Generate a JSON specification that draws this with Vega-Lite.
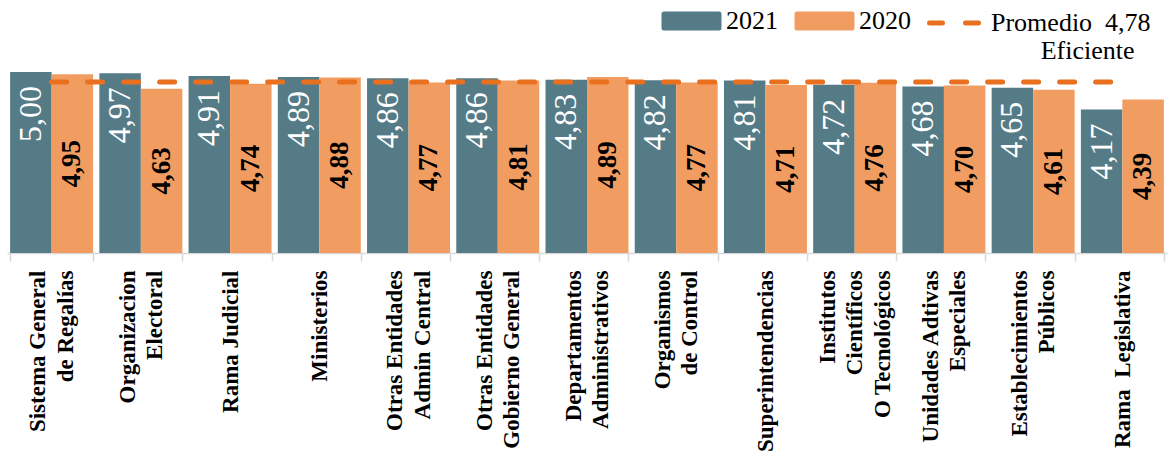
{
  "$schema": "https://vega.github.io/schema/vega-lite/v6.json",
  "width": 1160,
  "height": 181,
  "autosize": {"type": "none"},
  "padding": {"left": 7, "top": 72, "right": 8, "bottom": 207},
  "background": "white",
  "config": {
    "view": {"stroke": null},
    "font": "Liberation Serif",
    "locale": {"number": {"decimal": ",", "thousands": ".", "grouping": [3], "currency": ["$", ""]}}
  },
  "data": {
    "values": [
      {"cat": "Sistema General\nde Regalías", "year": "2021", "value": 5.00},
      {"cat": "Sistema General\nde Regalías", "year": "2020", "value": 4.95},
      {"cat": "Organizacion\nElectoral", "year": "2021", "value": 4.97},
      {"cat": "Organizacion\nElectoral", "year": "2020", "value": 4.63},
      {"cat": "Rama Judicial", "year": "2021", "value": 4.91},
      {"cat": "Rama Judicial", "year": "2020", "value": 4.74},
      {"cat": "Ministerios", "year": "2021", "value": 4.89},
      {"cat": "Ministerios", "year": "2020", "value": 4.88},
      {"cat": "Otras Entidades\nAdmin Central", "year": "2021", "value": 4.86},
      {"cat": "Otras Entidades\nAdmin Central", "year": "2020", "value": 4.77},
      {"cat": "Otras Entidades\nGobierno General", "year": "2021", "value": 4.86},
      {"cat": "Otras Entidades\nGobierno General", "year": "2020", "value": 4.81},
      {"cat": "Departamentos\nAdministrativos", "year": "2021", "value": 4.83},
      {"cat": "Departamentos\nAdministrativos", "year": "2020", "value": 4.89},
      {"cat": "Organismos\nde Control", "year": "2021", "value": 4.82},
      {"cat": "Organismos\nde Control", "year": "2020", "value": 4.77},
      {"cat": "Superintendencias", "year": "2021", "value": 4.81},
      {"cat": "Superintendencias", "year": "2020", "value": 4.71},
      {"cat": "Institutos\nCientíficos\nO Tecnológicos", "year": "2021", "value": 4.72},
      {"cat": "Institutos\nCientíficos\nO Tecnológicos", "year": "2020", "value": 4.76},
      {"cat": "Unidades Adtivas\nEspeciales", "year": "2021", "value": 4.68},
      {"cat": "Unidades Adtivas\nEspeciales", "year": "2020", "value": 4.70},
      {"cat": "Establecimientos\nPúblicos", "year": "2021", "value": 4.65},
      {"cat": "Establecimientos\nPúblicos", "year": "2020", "value": 4.61},
      {"cat": "Rama\u00a0\u00a0Legislativa", "year": "2021", "value": 4.17},
      {"cat": "Rama\u00a0\u00a0Legislativa", "year": "2020", "value": 4.39}
    ]
  },
  "resolve": {"scale": {"y": "independent"}},
  "encoding": {
    "x": {
      "field": "cat",
      "type": "nominal",
      "sort": null,
      "scale": {"paddingInner": 0.07, "paddingOuter": 0.035},
      "axis": {
        "title": null,
        "domainColor": "#d9d9d9",
        "domainWidth": 1.5,
        "tickColor": "#d9d9d9",
        "tickWidth": 1.5,
        "tickSize": 8,
        "tickBand": "extent",
        "labelAngle": -90,
        "labelAlign": "right",
        "labelBaseline": "middle",
        "labelFont": "Liberation Serif",
        "labelFontWeight": "bold",
        "labelFontSize": 23,
        "labelColor": "#000000",
        "labelLineHeight": 27.5,
        "labelPadding": 9,
        "labelLimit": 0,
        "labelOverlap": false,
        "labelExpr": "({'Sistema General\\nde Regalías': ['Sistema General', 'de Regalías\u00a0\u00a0\u00a0\u00a0'], 'Organizacion\\nElectoral': ['Organizacion', 'Electoral\u00a0\u00a0\u00a0\u00a0'], 'Otras Entidades\\nAdmin Central': ['Otras Entidades', 'Admin Central\u00a0'], 'Otras Entidades\\nGobierno General': ['Otras Entidades\u00a0', 'Gobierno General'], 'Organismos\\nde Control': ['Organismos', 'de Control\u00a0'], 'Institutos\\nCientíficos\\nO Tecnológicos': ['Institutos\u00a0\u00a0\u00a0\u00a0\u00a0', 'Científicos\u00a0\u00a0\u00a0\u00a0', 'O Tecnológicos'], 'Unidades Adtivas\\nEspeciales': ['Unidades Adtivas', 'Especiales\u00a0\u00a0\u00a0\u00a0\u00a0\u00a0\u00a0'], 'Establecimientos\\nPúblicos': ['Establecimientos', 'Públicos\u00a0\u00a0\u00a0\u00a0\u00a0\u00a0\u00a0\u00a0']})[datum.label] || split(datum.label, '\\n')",
        "encoding": {
          "labels": {
            "dy": {"value": {"expr": "-(length(split(datum.label, '\\n')) - 1) * 13.75"}}
          }
        }
      }
    }
  },
  "layer": [
    {
      "mark": {"type": "bar"},
      "encoding": {
        "xOffset": {"field": "year", "type": "nominal", "scale": {"domain": ["2021", "2020"]}},
        "y": {"field": "value", "type": "quantitative", "scale": {"domain": [1, 5], "nice": false, "zero": false}, "axis": null},
        "y2": {"datum": 1},
        "color": {
          "field": "year",
          "type": "nominal",
          "scale": {"domain": ["2021", "2020", "Promedio"], "range": ["#557b87", "#f19d62", "#e8701e"]},
          "legend": {
            "orient": "none",
            "legendX": 671.5,
            "legendY": -64,
            "direction": "horizontal",
            "padding": 0,
            "title": "Eficiente",
            "titleOrient": "bottom",
            "titleAnchor": "end",
            "titleBaseline": "top",
            "titlePadding": 0,
            "titleFont": "Liberation Serif",
            "titleFontSize": 26,
            "titleFontWeight": "normal",
            "titleColor": "#000000",
            "labelFont": "Liberation Serif",
            "labelFontSize": 26,
            "labelColor": "#000000",
            "labelLimit": 400,
            "labelOffset": 21.5,
            "columnPadding": 8,
            "symbolSize": 400,
            "symbolType": "M-2.75,-0.7H2.75V0.7H-2.75Z",
            "labelExpr": "datum.value == 'Promedio' ? 'Promedio\u00a0\u00a04,78' : datum.label",
            "encoding": {
              "title": {
                "dx": {"value": -16}
              },
              "symbols": {
                "shape": {"value": {"expr": "datum.value == 'Promedio' ? 'M-2.7,0H2.7' : 'M-2.75,-0.7H2.75V0.7H-2.75Z'"}},
                "fill": {"value": {"expr": "datum.value == 'Promedio' ? 'transparent' : (datum.value == '2021' ? '#557b87' : '#f19d62')"}},
                "stroke": {"value": {"expr": "datum.value == 'Promedio' ? '#e8701e' : 'transparent'"}},
                "strokeWidth": {"value": 5},
                "strokeDash": {"value": {"expr": "datum.value == 'Promedio' ? [13, 23] : [1, 0]"}},
                "strokeCap": {"value": "round"},
                "opacity": {"value": 1}
              }
            }
          }
        }
      }
    },
    {
      "transform": [{"filter": "datum.year == '2021'"}],
      "mark": {"type": "line", "strokeWidth": 5, "strokeDash": [15, 21], "strokeCap": "round"},
      "encoding": {
        "y": {"datum": 4.78, "type": "quantitative", "scale": {"domain": [1, 5], "nice": false, "zero": false}, "axis": null},
        "color": {"datum": "Promedio"}
      }
    },
    {
      "transform": [{"filter": "datum.year == '2021'"}],
      "mark": {"type": "text", "angle": -90, "align": "right", "baseline": "middle", "dx": -14, "font": "Liberation Serif", "fontSize": 32, "fontWeight": "normal", "color": "#ffffff"},
      "encoding": {
        "xOffset": {"field": "year", "type": "nominal", "scale": {"domain": ["2021", "2020"]}},
        "y": {"field": "value", "type": "quantitative", "scale": {"domain": [1, 5], "nice": false, "zero": false}, "axis": null},
        "text": {"field": "value", "type": "quantitative", "format": ".2f"}
      }
    },
    {
      "transform": [{"filter": "datum.year == '2020'"}],
      "mark": {"type": "text", "angle": -90, "align": "center", "baseline": "middle", "font": "Liberation Serif", "fontSize": 27, "fontWeight": "bold", "color": "#000000"},
      "encoding": {
        "xOffset": {"field": "year", "type": "nominal", "scale": {"domain": ["2021", "2020"]}},
        "y": {"field": "value", "type": "quantitative", "scale": {"domain": [1, 9], "nice": false, "zero": false}, "axis": null},
        "text": {"field": "value", "type": "quantitative", "format": ".2f"}
      }
    }
  ]
}
